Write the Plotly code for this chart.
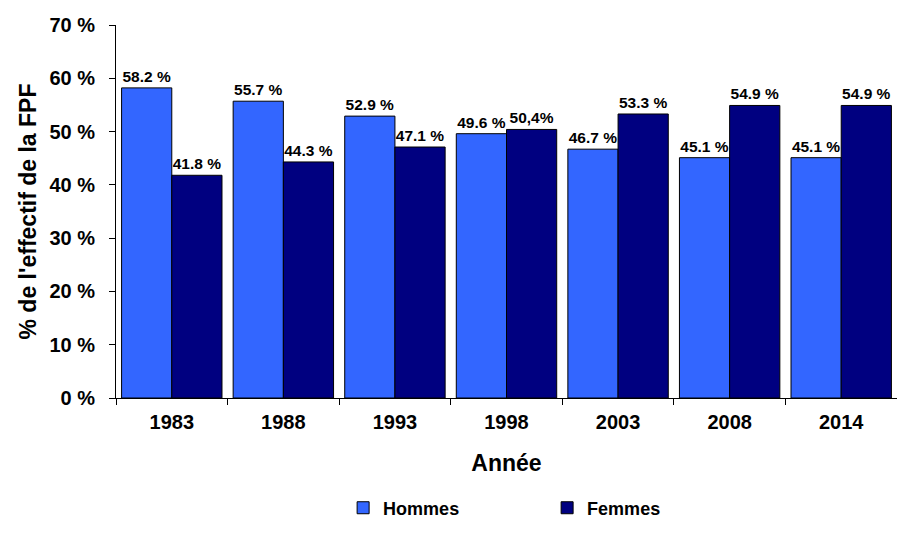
import plotly.graph_objects as go

years = ["1983", "1988", "1993", "1998", "2003", "2008", "2014"]
hommes = [58.2, 55.7, 52.9, 49.6, 46.7, 45.1, 45.1]
femmes = [41.8, 44.3, 47.1, 50.4, 53.3, 54.9, 54.9]
hommes_labels = ["58.2 %", "55.7 %", "52.9 %", "49.6 %", "46.7 %", "45.1 %", "45.1 %"]
femmes_labels = ["41.8 %", "44.3 %", "47.1 %", "50,4%", "53.3 %", "54.9 %", "54.9 %"]
y_ticks = [0, 10, 20, 30, 40, 50, 60, 70]
y_tick_labels = ["0 %", "10 %", "20 %", "30 %", "40 %", "50 %", "60 %", "70 %"]

F = "Liberation Sans, Arial, sans-serif"

fig = go.Figure()
fig.add_trace(go.Bar(
    x=years, y=hommes, name="Hommes", text=hommes_labels,
    textposition="outside", cliponaxis=False,
    textfont=dict(family=F, size=15.5, color="black", weight="bold"),
    marker=dict(color="#3366FF", line=dict(color="black", width=1)),
))
fig.add_trace(go.Bar(
    x=years, y=femmes, name="Femmes", text=femmes_labels,
    textposition="outside", cliponaxis=False,
    textfont=dict(family=F, size=15.5, color="black", weight="bold"),
    marker=dict(color="#000080", line=dict(color="black", width=1)),
))

# page body has an 8px margin: figure drawn at (8, 8)
fig.update_layout(
    width=897, height=531,
    margin=dict(l=108, r=8, t=17, b=141, autoexpand=False),
    paper_bgcolor="white", plot_bgcolor="white",
    barmode="group", bargap=0.1, bargroupgap=0,
    font=dict(family=F, color="black"),
    showlegend=True,
    legend=dict(orientation="h", x=0.552, xanchor="center", y=-0.295, yanchor="middle",
                font=dict(family=F, size=18, color="black", weight="bold"),
                itemwidth=30, entrywidth=159, entrywidthmode="pixels",
                traceorder="normal"),
)
fig.update_xaxes(
    title=dict(text="Année", font=dict(family=F, size=23, color="black", weight="bold"), standoff=22),
    tickfont=dict(family=F, size=20, color="black", weight="bold"),
    ticklabelstandoff=6,
    showline=True, linecolor="black", linewidth=1, automargin=False,
    ticks="outside", ticklen=6, tickcolor="black", tickson="boundaries",
    showgrid=False,
)
fig.update_yaxes(
    title=dict(text="% de l'effectif de la FPF", font=dict(family=F, size=23, color="black", weight="bold"), standoff=6),
    range=[0, 70], tickvals=y_ticks, ticktext=y_tick_labels,
    tickfont=dict(family=F, size=20, color="black", weight="bold"),
    ticklabelstandoff=10, automargin=False,
    showline=True, linecolor="black", linewidth=1,
    ticks="outside", ticklen=6, tickcolor="black",
    showgrid=False, zeroline=False,
)

fig.write_html("out.html")
